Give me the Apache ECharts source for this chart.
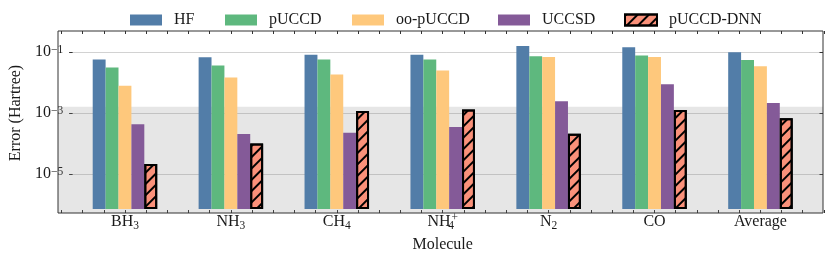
<!DOCTYPE html>
<html><head><meta charset="utf-8">
<script src="https://cdn.jsdelivr.net/npm/echarts@6/dist/echarts.min.js"></script>
<style>html,body{margin:0;padding:0;background:#fff}#c{width:831px;height:258px}</style>
</head><body><div id="c"></div>
<script>
// ---------------- data ----------------
const categories = ['BH3', 'NH3', 'CH4', 'NH4+', 'N2', 'CO', 'Average'];
const categoryTickLabels = ['BH{sub|3}', 'NH{sub|3}', 'CH{sub|4}', 'NH{subz|4}{sup|+}', 'N{sub|2}', 'CO', 'Average'];
const seriesNames = ['HF', 'pUCCD', 'oo-pUCCD', 'UCCSD', 'pUCCD-DNN'];
const hfValues     = [0.054, 0.064, 0.078, 0.078, 0.155, 0.139, 0.095];
const puccdValues  = [0.029, 0.034, 0.054, 0.054, 0.069, 0.074, 0.052];
const ooPuccdValues= [0.0072, 0.0135, 0.017, 0.023, 0.066, 0.066, 0.032];
const uccsdValues  = [3.7e-4, 1.73e-4, 1.9e-4, 2.95e-4, 2.15e-3, 8.1e-3, 1.9e-3];
const dnnValues    = [1.7e-5, 8.3e-5, 1.02e-3, 1.15e-3, 1.77e-4, 1.1e-3, 5.8e-4];
const yTickExponents = [-5, -3, -1];
const chemicalAccuracy = 1.6e-3;
const yMinExp = -6.279, yMaxExp = -0.311;
const xTitle = 'Molecule';
const yTitle = 'Error (Hartree)';

// ---------------- styles / layout ----------------
const FONT = 'Liberation Serif';
const FS = 16;
const TXT = '#1a1a1a';
const colors = ['#527da8', '#5eb87e', '#fec87c', '#845a98', '#fa917a'];
const legendLefts = [125, 220, 347, 493, 619];
const yMin = Math.pow(10, yMinExp), yMax = Math.pow(10, yMaxExp);
const seriesValues = [hfValues, puccdValues, ooPuccdValues, uccsdValues, dnnValues];

const chart = echarts.init(document.getElementById('c'), null, {renderer: 'canvas'});

const richSmall = {fontFamily: FONT, fontSize: 11.5, color: TXT};
const option = {
  animation: false,
  backgroundColor: '#fff',
  textStyle: {fontFamily: FONT},
  grid: [
    {left: 58, right: 8, top: 31, bottom: 45, show: true, borderColor: '#333', borderWidth: 1, backgroundColor: 'transparent', z: 10},
    {left: 72, right: 17.6, top: 31, bottom: 45},
    {left: 58, right: 8, top: 52, bottom: 84},
    {left: 61.46, right: 7.1, top: 31, bottom: 45}
  ],
  xAxis: [
    {gridIndex: 0, type: 'value', min: 0, max: 1, show: false},
    {gridIndex: 1, type: 'category', data: categories,
     axisLine: {show: false}, axisTick: {show: false}, splitLine: {show: false},
     axisLabel: {
       interval: 0, margin: 3, lineHeight: 20, fontFamily: FONT, fontSize: FS, color: TXT,
       formatter: (v, i) => categoryTickLabels[i],
       rich: {
         sub: Object.assign({verticalAlign: 'bottom'}, richSmall),
         subz: Object.assign({verticalAlign: 'bottom', width: 1}, richSmall),
         sup: Object.assign({verticalAlign: 'top'}, richSmall)
       }
     },
     name: xTitle, nameLocation: 'middle', nameGap: 27,
     nameTextStyle: {fontFamily: FONT, fontSize: FS, color: TXT}},
    {gridIndex: 2, type: 'value', min: 0, max: 1, show: false},
    {gridIndex: 3, type: 'value', position: 'bottom', min: -0.6, max: 6.6, interval: 0.2,
     axisLine: {show: false}, axisLabel: {show: false}, splitLine: {show: false},
     axisTick: {inside: true, length: 3, lineStyle: {color: '#333'}}},
    {gridIndex: 3, type: 'value', position: 'top', min: -0.6, max: 6.6, interval: 0.2,
     axisLine: {show: false}, axisLabel: {show: false}, splitLine: {show: false},
     axisTick: {inside: true, length: 3, lineStyle: {color: '#333'}}}
  ],
  yAxis: [
    {gridIndex: 0, type: 'log', min: yMin, max: yMax, show: false},
    {gridIndex: 1, type: 'log', min: yMin, max: yMax, startValue: yMin, show: false},
    {gridIndex: 2, type: 'value', min: yTickExponents[0], max: yTickExponents[yTickExponents.length - 1], interval: 2,
     axisLine: {show: false},
     axisTick: {inside: true, length: 3.5, lineStyle: {color: '#333'}},
     splitLine: {lineStyle: {color: '#d2d2d2', width: 1}},
     axisLabel: {
       margin: 6, lineHeight: 17, fontFamily: FONT, fontSize: FS, color: TXT,
       formatter: v => '10{s|\u2212' + Math.abs(Math.round(v)) + '}',
       rich: {s: Object.assign({verticalAlign: 'top'}, richSmall)}
     },
     name: yTitle, nameLocation: 'middle', nameGap: 37,
     nameTextStyle: {fontFamily: FONT, fontSize: FS, color: TXT}},
    {gridIndex: 2, type: 'value', position: 'right', min: yTickExponents[0], max: yTickExponents[yTickExponents.length - 1], interval: 2,
     axisLine: {show: false}, axisLabel: {show: false}, splitLine: {show: false},
     axisTick: {inside: true, length: 3.5, lineStyle: {color: '#333'}}},
    {gridIndex: 3, type: 'value', show: false}
  ],
  legend: seriesNames.map((n, i) => ({
    data: [n], left: legendLefts[i], top: 7, itemWidth: 32, itemHeight: 11, icon: 'rect',
    selectedMode: false,
    textStyle: {fontFamily: FONT, fontSize: FS, color: TXT, padding: [0, 0, 0, 7]}
  })),
  series: [
    {type: 'line', xAxisIndex: 0, yAxisIndex: 0, data: [[0.5, 1e-3]], showSymbol: false, symbolSize: 0,
     lineStyle: {opacity: 0}, silent: true, z: 1,
     markArea: {silent: true, itemStyle: {color: 'rgba(128,128,128,0.2)'},
       data: [[{yAxis: yMin}, {yAxis: chemicalAccuracy}]]},
     markLine: {silent: true, symbol: 'none', label: {show: false},
       lineStyle: {color: 'rgba(128,128,128,0.18)', type: 'solid', width: 1.5},
       data: [{yAxis: chemicalAccuracy}]}}
  ].concat(seriesNames.map((n, i) => {
    const s = {
      name: n, type: 'bar', xAxisIndex: 1, yAxisIndex: 1, data: seriesValues[i],
      barWidth: 12.9, barGap: '0%', z: 3,
      itemStyle: {color: colors[i]}
    };
    if (i === 4) {
      s.itemStyle = {color: colors[i], borderColor: '#000', borderWidth: 2,
        decal: {symbol: 'rect', symbolSize: 1, dashArrayX: [1, 0], dashArrayY: [1.6, 5.6],
                rotation: -Math.PI / 4, color: '#000'}};
    }
    return s;
  }))
};
chart.setOption(option);
</script>
</body></html>
